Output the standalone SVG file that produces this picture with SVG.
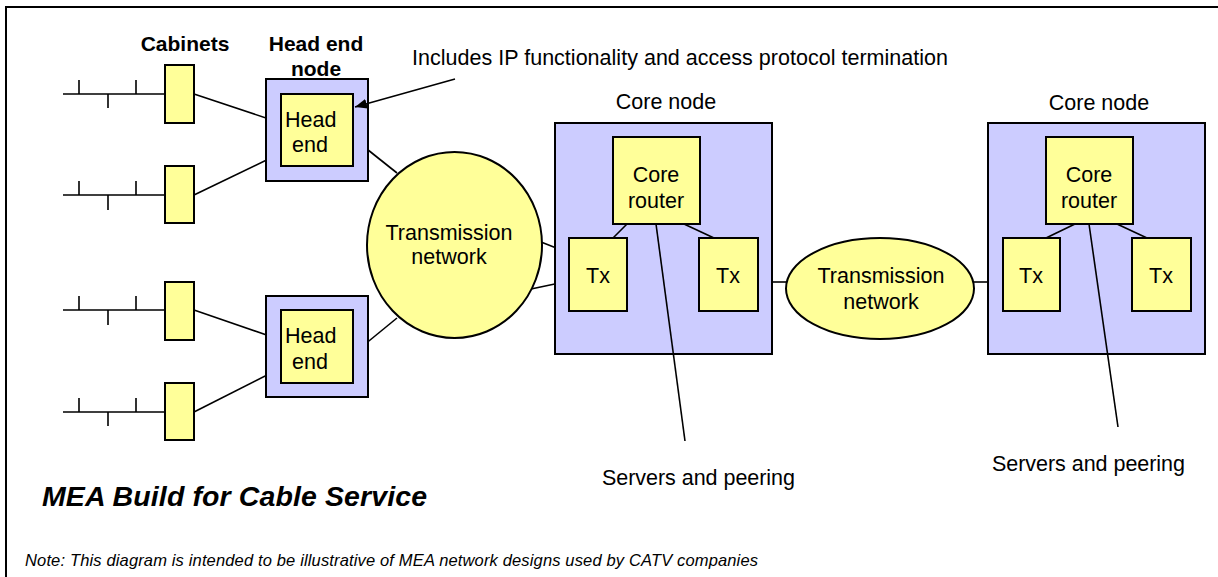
<svg xmlns="http://www.w3.org/2000/svg" width="1218" height="577" viewBox="0 0 1218 577">
  <style>
    text { font-family: "Liberation Sans", Arial, sans-serif; fill: #000; }
    .lbl { font-size: 21.5px; }
    .bold { font-size: 21px; font-weight: bold; }
    .mid { text-anchor: middle; }
    .node { fill: #CCCCFF; stroke: #000; stroke-width: 2; }
    .box { fill: #FFFF99; stroke: #000; stroke-width: 2; }
    .cloud { fill: #FFFF99; stroke: #000; stroke-width: 2; }
    .wire { stroke: #000; stroke-width: 1.6; fill: none; }
  </style>
  <defs>
    <marker id="arrowhead" markerWidth="12" markerHeight="10" refX="12" refY="5" orient="auto" markerUnits="userSpaceOnUse" viewBox="0 0 12 10">
      <path d="M0,0 L12,5 L0,10 Z" fill="#000"/>
    </marker>
  </defs>

  <rect width="1218" height="577" fill="#fff"/>
  <!-- page frame -->
  <rect x="6" y="7" width="1240" height="600" fill="none" stroke="#000" stroke-width="2"/>

  <!-- labels -->
  <text class="bold mid" x="185" y="51">Cabinets</text>
  <text class="bold mid" x="316" y="51">Head end</text>
  <text class="bold mid" x="316" y="76">node</text>
  <text class="lbl" x="412" y="65" textLength="536">Includes IP functionality and access protocol termination</text>
  <text class="lbl mid" x="666" y="109">Core node</text>
  <text class="lbl mid" x="1099" y="110">Core node</text>
  <text class="lbl" x="602" y="485" textLength="193">Servers and peering</text>
  <text class="lbl" x="992" y="471" textLength="193">Servers and peering</text>
  <text x="42" y="506" style="font-size:28.5px;font-weight:bold;font-style:italic" textLength="385">MEA Build for Cable Service</text>
  <text x="25" y="566" style="font-size:16.5px;font-style:italic" textLength="733">Note: This diagram is intended to be illustrative of MEA network designs used by CATV companies</text>

  <!-- connectors outside the nodes -->
  <g id="connectors" class="wire">
    <!-- cable buses feeding the cabinets -->
    <path d="M63,94 H165 M79,80 V94 M136,80 V94 M108,94 V108"/>
    <path d="M63,195 H165 M79,181 V195 M136,181 V195 M108,195 V210"/>
    <path d="M63,310 H165 M79,296 V310 M136,296 V310 M108,310 V325"/>
    <path d="M63,412 H165 M79,398 V412 M136,398 V412 M108,412 V426"/>
    <!-- cabinets to head ends -->
    <line x1="194" y1="94" x2="281" y2="123"/>
    <line x1="194" y1="195" x2="281" y2="153"/>
    <line x1="194" y1="310" x2="281" y2="340"/>
    <line x1="194" y1="412" x2="281" y2="368"/>
    <!-- head ends to transmission network -->
    <line x1="353" y1="138" x2="397" y2="173"/>
    <line x1="353" y1="354" x2="397" y2="318"/>
    <!-- transmission network to core node 1 -->
    <line x1="541" y1="242" x2="569" y2="253"/>
    <line x1="531" y1="289" x2="569" y2="281"/>
    <!-- core node 1 to core node 2 -->
    <line x1="758" y1="282" x2="786" y2="282"/>
    <line x1="974" y1="282" x2="1003" y2="282"/>
  </g>

  <!-- cabinets -->
  <g id="cabinet-1"><rect class="box" x="165" y="65" width="29" height="58"/></g>
  <g id="cabinet-2"><rect class="box" x="165" y="166" width="29" height="57"/></g>
  <g id="cabinet-3"><rect class="box" x="165" y="282" width="29" height="58"/></g>
  <g id="cabinet-4"><rect class="box" x="165" y="383" width="29" height="57"/></g>

  <!-- head end nodes -->
  <g id="head-end-1">
    <rect class="node" x="266" y="79" width="102" height="102"/>
    <rect class="box" x="281" y="94" width="72" height="72"/>
    <text class="lbl" x="285" y="127">Head</text>
    <text class="lbl" x="292" y="152">end</text>
  </g>
  <g id="head-end-2">
    <rect class="node" x="266" y="296" width="102" height="101"/>
    <rect class="box" x="281" y="310" width="72" height="73"/>
    <text class="lbl" x="285" y="343">Head</text>
    <text class="lbl" x="292" y="369">end</text>
  </g>

  <!-- transmission networks -->
  <g id="transmission-1">
    <ellipse class="cloud" cx="454.5" cy="245" rx="87.5" ry="93"/>
    <text class="lbl mid" x="449" y="240">Transmission</text>
    <text class="lbl mid" x="449" y="264">network</text>
  </g>
  <g id="transmission-2">
    <ellipse class="cloud" cx="880" cy="288.5" rx="94" ry="50.5"/>
    <text class="lbl mid" x="881" y="283">Transmission</text>
    <text class="lbl mid" x="881" y="309">network</text>
  </g>

  <!-- core node 1 -->
  <g id="core-node-1">
    <rect class="node" x="555" y="123" width="217" height="231"/>
    <g id="core-router-1">
      <rect class="box" x="613" y="137" width="87" height="87"/>
      <text class="lbl mid" x="656" y="182">Core</text>
      <text class="lbl mid" x="656" y="208">router</text>
    </g>
    <g id="tx-1a">
      <rect class="box" x="569" y="238" width="58" height="73"/>
      <text class="lbl mid" x="598" y="283">Tx</text>
    </g>
    <g id="tx-1b">
      <rect class="box" x="699" y="238" width="59" height="73"/>
      <text class="lbl mid" x="728" y="283">Tx</text>
    </g>
  </g>

  <!-- core node 2 -->
  <g id="core-node-2">
    <rect class="node" x="988" y="123" width="217" height="231"/>
    <g id="core-router-2">
      <rect class="box" x="1046" y="137" width="87" height="87"/>
      <text class="lbl mid" x="1089" y="182">Core</text>
      <text class="lbl mid" x="1089" y="208">router</text>
    </g>
    <g id="tx-2a">
      <rect class="box" x="1003" y="238" width="57" height="73"/>
      <text class="lbl mid" x="1031" y="283">Tx</text>
    </g>
    <g id="tx-2b">
      <rect class="box" x="1132" y="238" width="59" height="73"/>
      <text class="lbl mid" x="1161" y="283">Tx</text>
    </g>
  </g>

  <!-- connectors drawn over the nodes -->
  <g id="connectors-over" class="wire">
    <line x1="627" y1="224" x2="613" y2="238"/>
    <line x1="684" y1="224" x2="714" y2="238"/>
    <line x1="656" y1="224" x2="685" y2="441"/>
    <line x1="1075" y1="224" x2="1046" y2="238"/>
    <line x1="1117" y1="224" x2="1147" y2="238"/>
    <line x1="1089" y1="224" x2="1118" y2="427"/>
    <!-- callout pointing at the head end -->
    <line x1="455" y1="79" x2="355" y2="107" marker-end="url(#arrowhead)"/>
  </g>
</svg>
